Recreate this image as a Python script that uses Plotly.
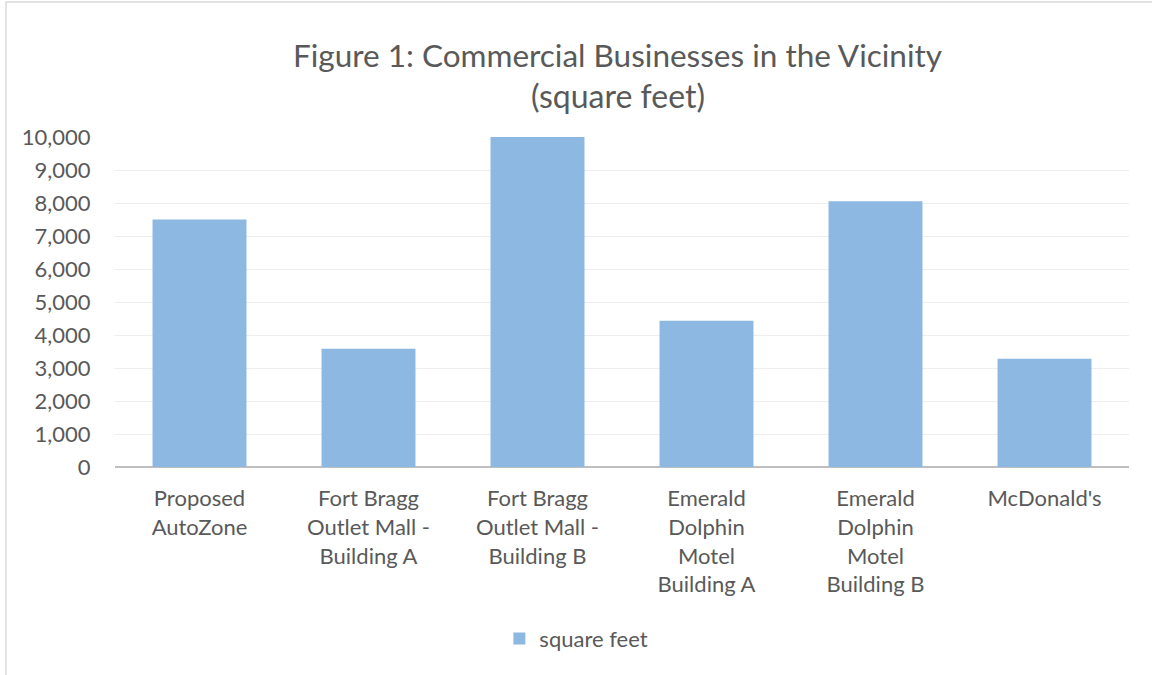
import plotly.graph_objects as go

categories = [
    "Proposed<br>AutoZone",
    "Fort Bragg<br>Outlet Mall -<br>Building A",
    "Fort Bragg<br>Outlet Mall -<br>Building B",
    "Emerald<br>Dolphin<br>Motel<br>Building A",
    "Emerald<br>Dolphin<br>Motel<br>Building B",
    "McDonald's",
]
square_feet = [7500, 3580, 10000, 4430, 8050, 3280]
y_ticks = [0, 1000, 2000, 3000, 4000, 5000, 6000, 7000, 8000, 9000, 10000]
series_name = "square feet"
title_text = "Figure 1: Commercial Businesses in the Vicinity"
subtitle_text = "(square feet)"

FONT = "Lato"
TXT = "#595959"

fig = go.Figure()
fig.add_trace(go.Bar(
    x=categories,
    y=square_feet,
    name=series_name,
    marker=dict(color="#8db8e2", line=dict(width=0)),
    showlegend=True,
))

fig.update_layout(
    width=1152,
    height=675,
    margin=dict(l=115, r=23, t=137, b=208),
    paper_bgcolor="white",
    plot_bgcolor="white",
    bargap=0.444,
    font=dict(family=FONT, color=TXT, size=19),
    showlegend=True,
    legend=dict(
        orientation="h",
        x=0.455, xanchor="center",
        y=-0.52, yanchor="middle",
        font=dict(family=FONT, size=22, color=TXT),
        itemwidth=30,
    ),
    xaxis=dict(
        showgrid=False,
        showline=False,
        ticks="outside",
        ticklen=12,
        tickcolor="rgba(0,0,0,0)",
        tickfont=dict(family=FONT, size=22, color=TXT),
    ),
    yaxis=dict(
        range=[0, 10000],
        tickvals=y_ticks,
        tickformat=",d",
        showgrid=True,
        gridcolor="#eeeeee",
        gridwidth=1,
        zeroline=True,
        zerolinecolor="#bfbfbf",
        zerolinewidth=2,
        showline=False,
        ticks="outside",
        ticklen=19,
        tickcolor="rgba(0,0,0,0)",
        tickfont=dict(family=FONT, size=22, color=TXT),
    ),
    annotations=[
        dict(text=title_text, xref="paper", yref="paper", x=0.496, y=(467 - 55) / 330,
             showarrow=False, xanchor="center", yanchor="middle",
             font=dict(family=FONT, size=31.5, color=TXT)),
        dict(text=subtitle_text, xref="paper", yref="paper", x=0.496, y=(467 - 95) / 330,
             showarrow=False, xanchor="center", yanchor="middle",
             font=dict(family=FONT, size=32, color=TXT)),
    ],
    shapes=[
        dict(type="rect", xref="paper", yref="paper",
             x0=(6 - 115) / 1014, x1=(1170 - 115) / 1014,
             y0=(467 - 690) / 330, y1=(467 - 2) / 330,
             line=dict(color="#d9d9d9", width=1.5), fillcolor="rgba(0,0,0,0)", layer="below"),
    ],
)

fig.write_html("out.html")
